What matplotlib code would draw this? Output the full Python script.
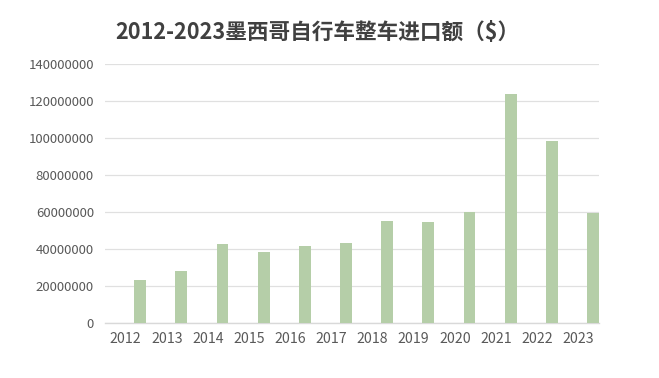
import matplotlib
matplotlib.use("Agg")
import matplotlib.pyplot as plt
import numpy as np

plt.rcParams['font.family'] = ['Noto Sans CJK SC', 'DejaVu Sans']

years = ['2012', '2013', '2014', '2015', '2016', '2017', '2018', '2019', '2020', '2021', '2022', '2023']
values = [23400000, 28200000, 42800000, 38500000, 41700000, 43400000,
          55200000, 54700000, 60100000, 123800000, 98400000, 59600000]
yticks = [0, 20000000, 40000000, 60000000, 80000000, 100000000, 120000000, 140000000]
title = '2012-2023墨西哥自行车整车进口额（$）'

fig = plt.figure(figsize=(6.59, 3.78), dpi=100)
ax = fig.add_axes([105/659, 1-323.3/378, 494/659, (323.3-64)/378])

x = np.arange(len(years))
ax.bar(x + 0.355, values, width=0.29, color='#B5CEA8', zorder=3)

ax.set_xlim(-0.5, len(years) - 0.5)
ax.set_ylim(0, 140000000)
ax.set_yticks(yticks)
ax.set_yticklabels([str(v) for v in yticks])
ax.set_xticks(x)
ax.set_xticklabels(years)

ax.grid(axis='y', color='#E0E0E0', linewidth=0.9, zorder=0)
for s in ['top', 'right', 'left']:
    ax.spines[s].set_visible(False)
ax.spines['bottom'].set_color('#D9D9D9')
ax.spines['bottom'].set_linewidth(1.0)
ax.tick_params(axis='both', length=0, colors='#595959')
ax.tick_params(axis='y', pad=8, labelsize=9.5)
ax.tick_params(axis='x', pad=6, labelsize=10.2)

fig.text(0.482, 1-33/378, title, ha='center', va='center', fontsize=15.6,
         fontweight='bold', color='#404040')

fig.savefig('out.png', dpi=100)
